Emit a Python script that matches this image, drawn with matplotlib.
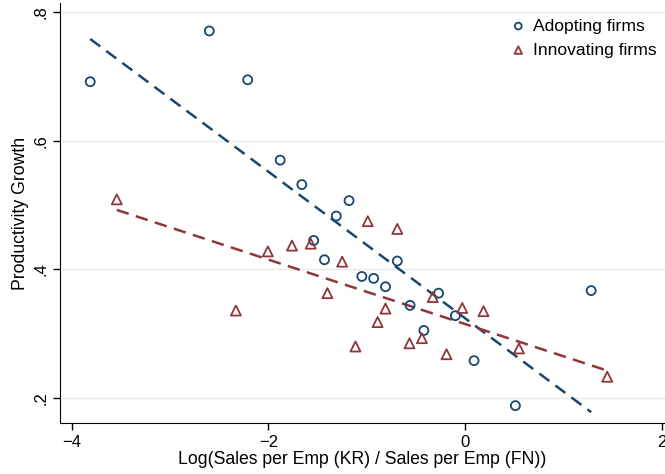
import numpy as np
import matplotlib
matplotlib.use("Agg")
import matplotlib.pyplot as plt

plt.rcParams["font.family"] = ["Liberation Sans", "DejaVu Sans"]

# Adopting firms (circles)
adopt_x = [-3.81, -2.60, -2.21, -1.88, -1.66, -1.18, -1.31, -1.54, -1.43, -1.05,
           -0.93, -0.81, -0.69, -0.56, -0.27, -0.42, -0.10, 0.09, 0.51, 1.28]
adopt_y = [0.692, 0.771, 0.695, 0.570, 0.532, 0.507, 0.483, 0.445, 0.415, 0.389,
           0.386, 0.373, 0.413, 0.344, 0.363, 0.305, 0.328, 0.258, 0.188, 0.367]

# Innovating firms (triangles)
innov_x = [-3.54, -2.33, -2.005, -1.76, -1.57, -1.40, -1.25, -1.115, -0.99, -0.89,
           -0.81, -0.69, -0.566, -0.44, -0.33, -0.19, -0.03, 0.186, 0.546, 1.443]
innov_y = [0.509, 0.336, 0.428, 0.437, 0.440, 0.363, 0.412, 0.280, 0.475, 0.318,
           0.339, 0.463, 0.285, 0.293, 0.357, 0.268, 0.340, 0.335, 0.277, 0.233]

NAVY = "#1a476f"
MAROON = "#90353b"

fig = plt.figure(figsize=(6.65, 4.74), dpi=100)
ax = fig.add_axes([60 / 665, 1 - 423 / 474, 605 / 665, 420 / 474])

for y in (0.2, 0.4, 0.6, 0.8):
    ax.axhline(y, color="#eaeaea", lw=1.0, zorder=0)

ax.scatter(adopt_x, adopt_y, s=42, facecolors="none", edgecolors=NAVY,
           linewidths=1.3, marker="o", label="Adopting firms", zorder=3)
ax.scatter(innov_x, innov_y, s=52, facecolors="none", edgecolors=MAROON,
           linewidths=1.3, marker="^", label="Innovating firms", zorder=3)

# lineas de ajuste lineal
for xs, ys, col in ((adopt_x, adopt_y, NAVY), (innov_x, innov_y, MAROON)):
    b, a = np.polyfit(xs, ys, 1)
    xx = np.array([min(xs), max(xs)])
    ax.plot(xx, a + b * xx, color=col, lw=1.8, ls=(0, (5, 3)), zorder=2)

ax.set_xlim(-4.117, 2.03)
ax.set_ylim(0.161, 0.8145)
ax.set_xticks([-4, -2, 0, 2])
ax.set_yticks([0.2, 0.4, 0.6, 0.8])
ax.set_yticklabels([".2", ".4", ".6", ".8"], rotation=90, va="center")
ax.tick_params(direction="out", length=5, width=1, labelsize=12, colors="black")
for s in ("top", "right"):
    ax.spines[s].set_visible(False)
ax.set_xlabel("Log(Sales per Emp (KR) / Sales per Emp (FN))", fontsize=12.7, labelpad=1)
ax.set_ylabel("Productivity Growth", fontsize=12.7, labelpad=3)

ax.legend(loc="upper right", frameon=False, fontsize=12.6, handletextpad=0.25,
          borderaxespad=0.0, labelspacing=0.5, markerscale=0.75, handlelength=1.2,
          bbox_to_anchor=(0.998, 0.98))

fig.savefig("out.png", dpi=100)
